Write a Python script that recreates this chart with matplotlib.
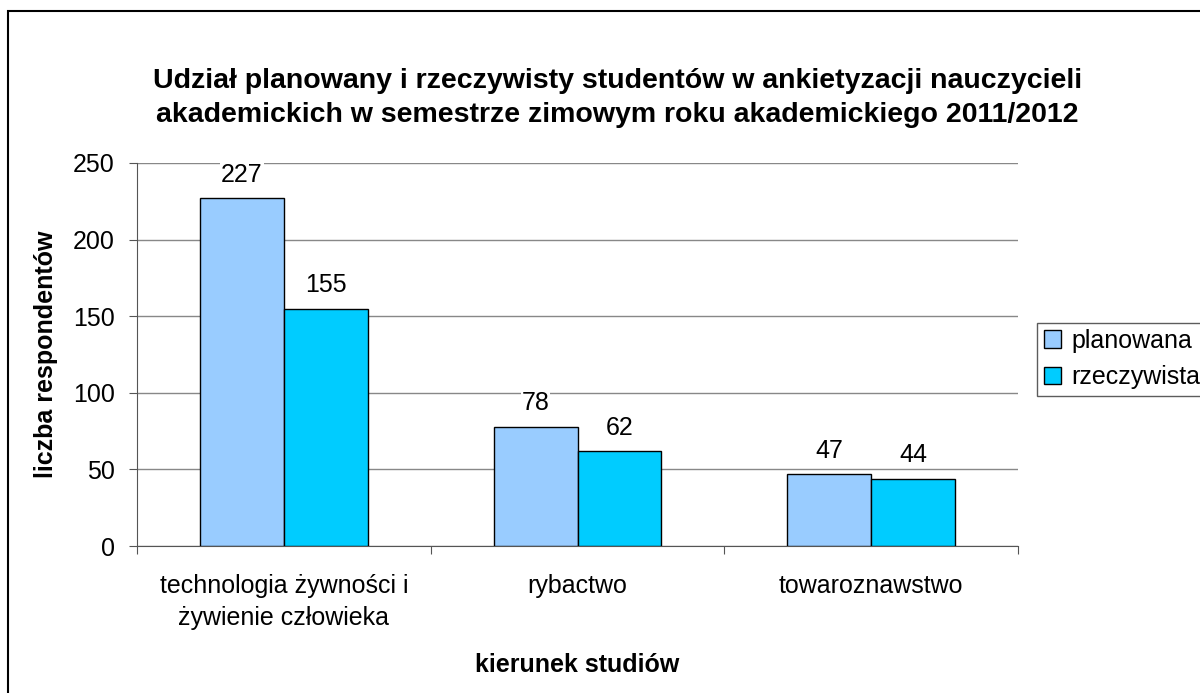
import matplotlib.pyplot as plt
import numpy as np
from matplotlib.patches import Rectangle

plt.rcParams['font.family'] = ['Liberation Sans', 'DejaVu Sans']

kierunki = ["technologia żywności i\nżywienie człowieka", "rybactwo", "towaroznawstwo"]
planowana = [227, 78, 47]
rzeczywista = [155, 62, 44]

fig = plt.figure(figsize=(12, 6.93), dpi=100)
ax = fig.add_axes([0.1142, 0.2121, 0.7341, 0.5527])

x = np.arange(len(kierunki))
w = 0.285
b1 = ax.bar(x - w/2, planowana, w, color="#99CCFF", edgecolor="black", linewidth=1, label="planowana", zorder=3)
b2 = ax.bar(x + w/2, rzeczywista, w, color="#00CCFF", edgecolor="black", linewidth=1, label="rzeczywista", zorder=3)

for bars, vals in ((b1, planowana), (b2, rzeczywista)):
    for r, v in zip(bars, vals):
        ax.text(r.get_x() + r.get_width()/2, v + 7.5, str(v), ha="center", va="bottom", fontsize=18,
                bbox=dict(facecolor="white", edgecolor="none", pad=0.5), zorder=4)

ax.set_xlim(-0.5, 2.5)
ax.set_ylim(0, 250)
ax.set_yticks(range(0, 251, 50))
ax.set_xticks([-0.5, 0.5, 1.5, 2.5], minor=False)
ax.set_xticklabels([])
ax.set_xticks(x, minor=True)
ax.set_xticklabels(kierunki, minor=True, fontsize=18, linespacing=1.45)
ax.tick_params(axis="x", which="minor", length=0, pad=20)
ax.tick_params(axis="x", which="major", length=6, direction="out", color="#555555")
ax.tick_params(axis="y", labelsize=18, length=6, color="#555555", pad=10)
ax.grid(axis="y", color="#888888", linewidth=1, zorder=0)
for s in ["top", "right"]:
    ax.spines[s].set_visible(False)
for s in ["left", "bottom"]:
    ax.spines[s].set_color("#555555")

ax.set_ylabel("liczba respondentów", fontsize=18, fontweight="bold")
ax.set_xlabel("kierunek studiów", fontsize=18, fontweight="bold")
ax.yaxis.set_label_coords(-0.09, 0.5)
ax.xaxis.set_label_coords(0.5, -0.28)

fig.text(0.5146, 0.8585, "Udział planowany i rzeczywisty studentów w ankietyzacji nauczycieli\n"
         "akademickich w semestrze zimowym roku akademickiego 2011/2012",
         ha="center", va="center", fontsize=20.5, fontweight="bold", linespacing=1.4)

leg = ax.legend(loc="center left", bbox_to_anchor=(1.022, 0.488), fontsize=18, frameon=True,
                fancybox=False, edgecolor="#333333", handlelength=0.7, handleheight=0.7,
                handletextpad=0.4, borderpad=0.25, labelspacing=0.5, borderaxespad=0)
leg.get_frame().set_linewidth(1)

fig.patches.append(Rectangle((8/1200, -0.1), 1.2, 1.1 - 11/693, transform=fig.transFigure,
                             fill=False, edgecolor="black", linewidth=1.5))

fig.savefig("out.png", dpi=100)
